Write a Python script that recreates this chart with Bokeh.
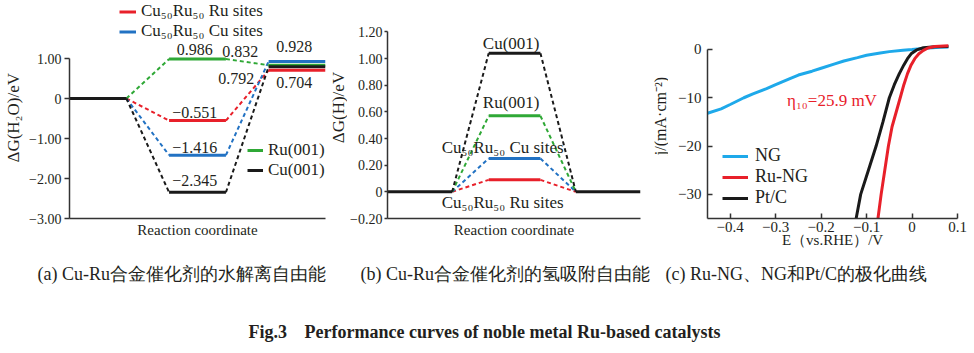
import math
from bokeh.plotting import figure
from bokeh.layouts import column, row
from bokeh.models import (Range1d, Legend, LegendItem, CustomJSTickFormatter,
                          FixedTicker, Label, ColumnDataSource)
from bokeh.core.properties import value
from bokeh.embed import file_html
from bokeh.resources import INLINE

# ---------------- data: panel (a) water dissociation free energy ----------------
a_series = ["Cu₅₀Ru₅₀ Ru sites", "Cu₅₀Ru₅₀ Cu sites", "Ru(001)", "Cu(001)"]
a_initial = 0.0
a_intermediate = [-0.551, -1.416, 0.986, -2.345]
a_final = [0.704, 0.928, 0.832, 0.792]
a_yticks = [-3.0, -2.0, -1.0, 0.0, 1.0]

# ---------------- data: panel (b) hydrogen adsorption free energy ----------------
b_series = ["Cu₅₀Ru₅₀ Ru sites", "Cu₅₀Ru₅₀ Cu sites", "Ru(001)", "Cu(001)"]
b_initial = 0.0
b_intermediate = [0.09, 0.25, 0.57, 1.04]
b_final = 0.0
b_yticks = [-0.2, 0.0, 0.2, 0.4, 0.6, 0.8, 1.0, 1.2]

# ---------------- data: panel (c) polarization curves ----------------
ng_E = [-0.45, -0.42, -0.40, -0.37, -0.35, -0.32, -0.30, -0.27, -0.25, -0.22, -0.20,
        -0.17, -0.15, -0.12, -0.10, -0.07, -0.05, -0.02, 0.00, 0.03, 0.06, 0.08]
ng_j = [-13.2, -12.3, -11.4, -10.0, -9.2, -8.1, -7.3, -6.1, -5.3, -4.5, -3.9,
        -3.0, -2.4, -1.7, -1.2, -0.75, -0.45, -0.15, 0.0, 0.25, 0.45, 0.5]
ru_E = [-0.075, -0.068, -0.060, -0.052, -0.044, -0.035, -0.026, -0.018, -0.010,
        -0.002, 0.006, 0.015, 0.025, 0.035, 0.05, 0.08]
ru_j = [-35, -30, -25, -20, -16, -13, -10, -7.3, -5.0, -3.2, -1.9, -0.9, -0.2, 0.3, 0.6, 0.75]
pt_E = [-0.123, -0.113, -0.096, -0.079, -0.064, -0.050, -0.039, -0.028, -0.018,
        -0.010, -0.002, 0.010, 0.025, 0.05, 0.08]
pt_j = [-35, -30, -25, -20, -15, -10, -7.3, -5.0, -3.2, -1.9, -0.9, -0.1, 0.35, 0.55, 0.6]
c_names = ["NG", "Ru-NG", "Pt/C"]
eta10_mV = 25.9
c_xticks = [-0.4, -0.3, -0.2, -0.1, 0.0, 0.1]
c_yticks = [-30, -20, -10, 0]

cap_a = "(a) Cu-Ru合金催化剂的水解离自由能"
cap_b = "(b) Cu-Ru合金催化剂的氢吸附自由能"
cap_c = "(c) Ru-NG、NG和Pt/C的极化曲线"
fig_no = "Fig.3"
fig_title = "Performance curves of noble metal Ru-based catalysts"

# ---------------- styles ----------------
RED = "#e8202a"
BLUE = "#2272c3"
GREEN = "#2fa836"
BLACK = "#1a1a1a"
CYAN = "#1ea9ea"
TXT = "#231f20"
SERIF = "Liberation Serif"
a_colors = [RED, BLUE, GREEN, BLACK]
b_colors = [RED, BLUE, GREEN, BLACK]
TOP = 2          # frame top (px)
FH = 216         # frame height (px)
ROWH = 253

JS_FMT = """
if (Math.abs(tick) < 1e-9) { return "0"; }
return (tick < 0 ? "\u2212" : "") + Math.abs(tick).toFixed(%d);
"""
fmt2 = CustomJSTickFormatter(code=JS_FMT % 2)
fmt2b = CustomJSTickFormatter(code=JS_FMT % 2)
fmt1 = CustomJSTickFormatter(code=JS_FMT % 1)
fmt0 = CustomJSTickFormatter(code=JS_FMT % 0)


def base_fig(width, xr, yr, left, right):
    p = figure(width=width, height=ROWH, x_range=xr, y_range=yr,
               output_backend="svg", toolbar_location=None,
               min_border_left=left, min_border_right=right,
               min_border_top=TOP, min_border_bottom=ROWH - TOP - FH)
    p.grid.visible = False
    p.outline_line_color = None
    for ax in (p.xaxis[0], p.yaxis[0]):
        ax.axis_line_color = "#333333"
        ax.axis_line_width = 1.5
        ax.major_tick_line_color = "#333333"
        ax.major_tick_line_width = 1.5
        ax.minor_tick_line_color = None
        ax.major_label_text_font = SERIF
        ax.major_label_text_color = TXT
        ax.axis_label_text_font = SERIF
        ax.axis_label_text_font_style = "normal"
        ax.axis_label_text_color = TXT
    return p


def label_fig(width, cx, cy, text, size):
    f = figure(width=width, height=ROWH, x_range=Range1d(0, width), y_range=Range1d(0, ROWH),
               output_backend="svg", toolbar_location=None, min_border=0,
               x_axis_location=None, y_axis_location=None)
    f.grid.visible = False
    f.outline_line_color = None
    f.text(x=[cx], y=[ROWH - cy], text=[text], angle=math.pi / 2, text_align="center",
           text_baseline="middle", text_font=value(SERIF), text_font_size=size,
           text_color=TXT)
    return f


def fmt_val(v):
    s = f"{abs(v):.3f}"
    return ("−" + s) if v < 0 else s


# ================= panel (a) =================
a_stage = [(0.0, 1.0), (1.75, 2.75), (3.5, 4.5)]
la = label_fig(26, 13, 135, "ΔG(H₂O)/eV", "17px")
pa = base_fig(303, Range1d(0, 4.5), Range1d(-3.0, -3.0 + FH / 40.0), 42, 4)
pa.yaxis.ticker = FixedTicker(ticks=a_yticks)
pa.yaxis.formatter = fmt2
pa.yaxis.bounds = (-3.0, 1.0)
pa.yaxis.major_tick_out = 5
pa.yaxis.major_tick_in = 0
pa.yaxis.major_label_standoff = 3
pa.yaxis.major_label_text_font_size = "14px"
pa.xaxis.ticker = FixedTicker(ticks=[])
pa.xaxis.major_tick_out = 0
pa.xaxis.major_tick_in = 0
pa.xaxis.axis_label = "Reaction coordinate"
pa.xaxis.axis_label_text_font_size = "15px"
pa.xaxis.axis_label_standoff = 3

a_level_renderers = []
for i, name in enumerate(a_series):
    lv, fv = a_intermediate[i], a_final[i]
    src_d = ColumnDataSource(dict(
        x0=[a_stage[0][1], a_stage[1][1]], y0=[a_initial, lv],
        x1=[a_stage[1][0], a_stage[2][0]], y1=[lv, fv]))
    pa.segment("x0", "y0", "x1", "y1", source=src_d, line_color=a_colors[i],
               line_width=2, line_dash="4 3")
for i in [1, 2, 3, 0]:
    lv, fv = a_intermediate[i], a_final[i]
    src_s = ColumnDataSource(dict(
        x0=[a_stage[1][0], a_stage[2][0]], y0=[lv, fv],
        x1=[a_stage[1][1], a_stage[2][1]], y1=[lv, fv]))
    r = pa.segment("x0", "y0", "x1", "y1", source=src_s, line_color=a_colors[i],
                   line_width=3)
    a_level_renderers.append((i, r))
pa.segment(x0=[a_stage[0][0]], y0=[a_initial], x1=[a_stage[0][1]], y1=[a_initial],
           line_color=BLACK, line_width=3)
rmap = dict(a_level_renderers)

# value labels
a_lab_vals = a_intermediate + a_final
a_lab_x = [2.2, 2.2, 2.2, 2.2, 3.95, 3.95, 3.0, 2.93]
a_lab_dy = [-8, -8, -10, -12, 12, -15, -14, 12]
pa.text(x=a_lab_x, y=a_lab_vals, text=[fmt_val(v) for v in a_lab_vals],
        y_offset=a_lab_dy, text_align="center", text_baseline="middle",
        text_font=value(SERIF), text_font_size="16px", text_color=TXT)

leg_top = Legend(items=[LegendItem(label=a_series[0], renderers=[rmap[0]]),
                        LegendItem(label=a_series[1], renderers=[rmap[1]])],
                 location=(50, 177))
leg_bot = Legend(items=[LegendItem(label=a_series[2], renderers=[rmap[2]]),
                        LegendItem(label=a_series[3], renderers=[rmap[3]])],
                 location=(178, 38))
for lg, lh, gw in ((leg_top, 17, 17), (leg_bot, 20, 16)):
    lg.padding = 0
    lg.margin = 0
    lg.spacing = 0
    lg.label_height = lh
    lg.glyph_height = lh
    lg.glyph_width = gw
    lg.label_standoff = 5
    lg.border_line_color = None
    lg.background_fill_alpha = 0
    lg.label_text_font = SERIF
    lg.label_text_font_size = "17px"
    lg.label_text_color = TXT
    pa.add_layout(lg)

# ================= panel (b) =================
b_stage = [(0.0, 1.15), (1.8, 2.72), (3.35, 4.5)]
lb = label_fig(18, 9, 123, "ΔG(H)/eV", "17px")
pb = base_fig(298, Range1d(0, 4.5), Range1d(-0.2, -0.2 + FH / 133.3), 38, 5)
pb.yaxis.ticker = FixedTicker(ticks=b_yticks)
pb.yaxis.formatter = fmt2b
pb.yaxis.bounds = (-0.2, 1.2)
pb.yaxis.major_tick_out = 3
pb.yaxis.major_tick_in = 0
pb.yaxis.major_label_standoff = 2
pb.yaxis.major_label_text_font_size = "14px"
pb.xaxis.ticker = FixedTicker(ticks=[])
pb.xaxis.major_tick_out = 0
pb.xaxis.major_tick_in = 0
pb.xaxis.axis_label = "Reaction coordinate"
pb.xaxis.axis_label_text_font_size = "15px"
pb.xaxis.axis_label_standoff = 3

for i in [0, 1, 2, 3]:
    lv = b_intermediate[i]
    pb.segment(x0=[b_stage[0][1], b_stage[1][1]], y0=[b_initial, lv],
               x1=[b_stage[1][0], b_stage[2][0]], y1=[lv, b_final],
               line_color=b_colors[i], line_width=2, line_dash="4 3")
for i in [0, 1, 2, 3]:
    lv = b_intermediate[i]
    pb.segment(x0=[b_stage[1][0]], y0=[lv], x1=[b_stage[1][1]], y1=[lv],
               line_color=b_colors[i], line_width=3)
pb.segment(x0=[b_stage[0][0], b_stage[2][0]], y0=[b_initial, b_final],
           x1=[b_stage[0][1], b_stage[2][1]], y1=[b_initial, b_final],
           line_color=BLACK, line_width=3)
b_lab_x = [2.05, 2.05, 2.2, 2.2]
b_lab_y = [b_initial, b_intermediate[1], b_intermediate[2], b_intermediate[3]]
b_lab_dy = [11, -11, -13, -10]
pb.text(x=b_lab_x, y=b_lab_y, text=b_series, y_offset=b_lab_dy,
        text_align="center", text_baseline="middle", text_font=value(SERIF),
        text_font_size="17px", text_color=TXT)

# ================= panel (c) =================
lc = label_fig(23, 15, 133, "j/(mA·cm⁻²)", "16px")
pc = base_fig(306, Range1d(-0.45, 0.1), Range1d(-35, -35 + FH / 4.83), 39, 17)
pc.xaxis.ticker = FixedTicker(ticks=c_xticks)
pc.xaxis.formatter = fmt1
pc.xaxis.major_tick_out = 0
pc.xaxis.major_tick_in = 5
pc.xaxis.major_label_standoff = 3
pc.xaxis.major_label_text_font_size = "15px"
pc.xaxis.axis_label = "E（vs.RHE）/V"
pc.xaxis.axis_label_text_font_size = "15px"
pc.xaxis.axis_label_standoff = -3
pc.yaxis.ticker = FixedTicker(ticks=c_yticks)
pc.yaxis.formatter = fmt0
pc.yaxis.bounds = (-35, 0)
pc.yaxis.major_tick_out = 0
pc.yaxis.major_tick_in = 5
pc.yaxis.major_label_standoff = 6
pc.yaxis.major_label_text_font_size = "15px"

r_ng = pc.line(ng_E, ng_j, line_color=CYAN, line_width=3)
r_pt = pc.line(pt_E, pt_j, line_color=BLACK, line_width=3)
r_ru = pc.line(ru_E, ru_j, line_color=RED, line_width=3)
pc.text(x=[-0.275], y=[-10.6], text=[f"η₁₀={eta10_mV} mV"], text_color=RED,
        text_font=value(SERIF), text_font_size="17px", text_baseline="middle")
leg_c = Legend(items=[LegendItem(label=c_names[0], renderers=[r_ng]),
                      LegendItem(label=c_names[1], renderers=[r_ru]),
                      LegendItem(label=c_names[2], renderers=[r_pt])],
               location=(15, 10))
leg_c.padding = 0
leg_c.margin = 0
leg_c.spacing = 0
leg_c.label_height = 18
leg_c.glyph_height = 18
leg_c.glyph_width = 26
leg_c.label_standoff = 7
leg_c.border_line_color = None
leg_c.background_fill_alpha = 0
leg_c.label_text_font = SERIF
leg_c.label_text_font_size = "18px"
leg_c.label_text_color = TXT
pc.add_layout(leg_c)

# ================= captions =================
cap = figure(width=974, height=100, x_range=Range1d(0, 974), y_range=Range1d(0, 100),
             output_backend="svg", toolbar_location=None, min_border=0,
             x_axis_location=None, y_axis_location=None)
cap.grid.visible = False
cap.outline_line_color = None
cap.text(x=[37, 360, 665], y=[80, 80, 80], text=[cap_a, cap_b, cap_c],
         text_baseline="middle", text_font=value(SERIF), text_font_size="18px",
         text_color=TXT)
cap.text(x=[248, 304], y=[22, 22], text=[fig_no, fig_title], text_baseline="middle",
         text_font=value(SERIF), text_font_size="18px", text_font_style="bold",
         text_color=TXT)

layout = column(row(la, pa, lb, pb, lc, pc), cap)
open("out.html", "w").write(file_html(layout, INLINE))
